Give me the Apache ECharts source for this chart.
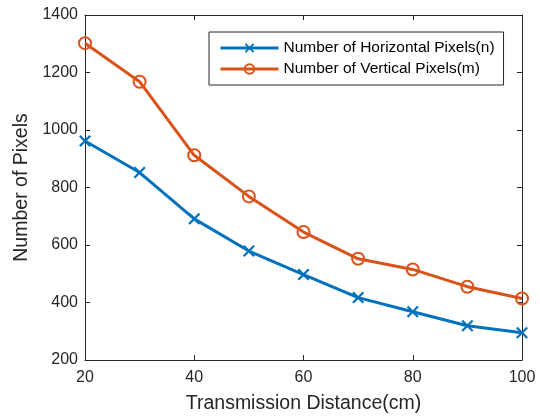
<!DOCTYPE html>
<html>
<head>
<meta charset="utf-8">
<script src="https://cdn.jsdelivr.net/npm/echarts@6/dist/echarts.min.js"></script>
<style>
  html, body { margin: 0; padding: 0; background: #fff; }
  #chart { width: 540px; height: 419px; }
</style>
</head>
<body>
<div id="chart"></div>
<script>
// distance (cm)
const distances = [20, 30, 40, 50, 60, 70, 80, 90, 100];
const horizontalPixels = [962, 852, 691, 579, 497, 417, 368, 319, 295];
const verticalPixels = [1302, 1168, 912, 769, 645, 552, 515, 455, 414];
const seriesNames = ["Number of Horizontal Pixels(n)", "Number of Vertical Pixels(m)"];

const axisColor = "#262626";
const fontFamily = "'Liberation Sans', Arial, sans-serif";
// cross marker as a filled polygon
const crossPath = "path://M1.3,0 L5,3.7 L8.7,0 L10,1.3 L6.3,5 L10,8.7 L8.7,10 L5,6.3 L1.3,10 L0,8.7 L3.7,5 L0,1.3 Z";

function pairs(ys) {
  return distances.map((x, i) => [x, ys[i]]);
}

const chart = echarts.init(document.getElementById("chart"));

const option = {
  animation: false,
  backgroundColor: "#fff",
  grid: { left: 85, right: 18, top: 15, bottom: 57 },
  legend: {
    orient: "vertical",
    left: 209,
    top: 32,
    padding: [8, 9, 8, 10],
    itemGap: 5,
    itemWidth: 58,
    itemHeight: 12,
    borderColor: axisColor,
    borderWidth: 1,
    backgroundColor: "#fff",
    lineStyle: { width: 3 },
    textStyle: { fontFamily: fontFamily, fontSize: 15.5, color: "#000" },
    data: seriesNames
  },
  xAxis: [
    {
      type: "value",
      min: 20,
      max: 100,
      interval: 20,
      name: "Transmission Distance(cm)",
      nameLocation: "middle",
      nameGap: 34,
      nameTextStyle: { fontFamily: fontFamily, fontSize: 19.5, color: axisColor },
      axisLine: { lineStyle: { color: axisColor, width: 1 } },
      axisTick: { inside: true, length: 5, lineStyle: { color: axisColor } },
      axisLabel: { fontFamily: fontFamily, fontSize: 16, color: axisColor, margin: 10 },
      splitLine: { show: false }
    },
    {
      type: "value",
      position: "top",
      min: 20,
      max: 100,
      interval: 20,
      axisLine: { lineStyle: { color: axisColor, width: 1 } },
      axisTick: { inside: true, length: 5, lineStyle: { color: axisColor } },
      axisLabel: { show: false },
      splitLine: { show: false }
    }
  ],
  yAxis: [
    {
      type: "value",
      min: 200,
      max: 1400,
      interval: 200,
      name: "Number of Pixels",
      nameLocation: "middle",
      nameGap: 53,
      nameTextStyle: { fontFamily: fontFamily, fontSize: 19.5, color: axisColor },
      axisLine: { show: true, lineStyle: { color: axisColor, width: 1 } },
      axisTick: { show: true, inside: true, length: 5, lineStyle: { color: axisColor } },
      axisLabel: {
        fontFamily: fontFamily, fontSize: 16, color: axisColor, margin: 7,
        formatter: v => String(v)
      },
      splitLine: { show: false }
    },
    {
      type: "value",
      position: "right",
      min: 200,
      max: 1400,
      interval: 200,
      axisLine: { show: true, lineStyle: { color: axisColor, width: 1 } },
      axisTick: { show: true, inside: true, length: 5, lineStyle: { color: axisColor } },
      axisLabel: { show: false },
      splitLine: { show: false }
    }
  ],
  series: [
    {
      name: seriesNames[0],
      type: "line",
      data: pairs(horizontalPixels),
      symbol: crossPath,
      symbolSize: 12,
      lineStyle: { color: "#0072BD", width: 3 },
      itemStyle: { color: "#0072BD" }
    },
    {
      name: seriesNames[1],
      type: "line",
      data: pairs(verticalPixels),
      symbol: "circle",
      symbolSize: 12,
      lineStyle: { color: "#D95319", width: 3 },
      itemStyle: { color: "rgba(255,255,255,0)", borderColor: "#D95319", borderWidth: 2 }
    }
  ]
};

chart.setOption(option);
</script>
</body>
</html>
